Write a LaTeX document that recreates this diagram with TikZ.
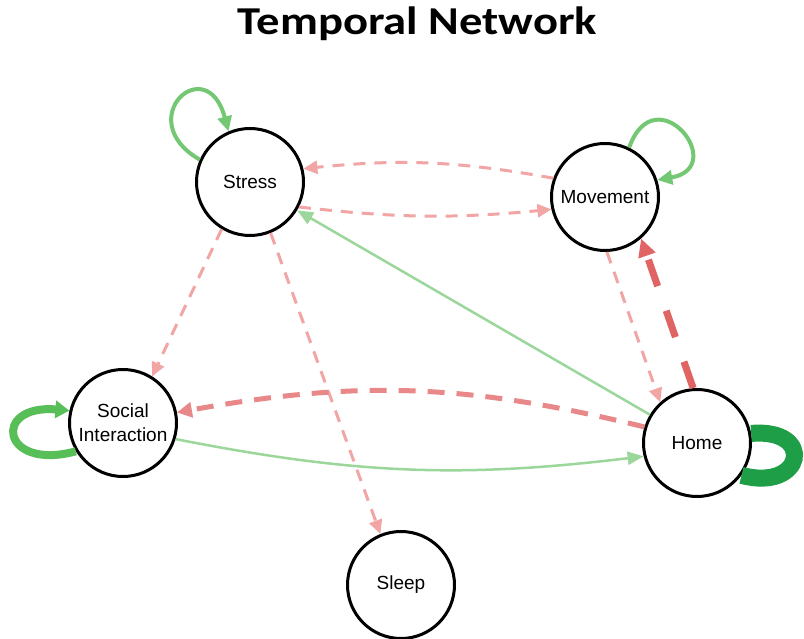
\documentclass[tikz,border=0pt]{standalone}
\usepackage{fontspec}
\usepackage{graphicx}
\setmainfont{Liberation Sans}
\newfontfamily\titlefont{Carlito}
\usetikzlibrary{arrows.meta}
\definecolor{lightred}{HTML}{F2A5A5}
\definecolor{midred}{HTML}{E98888}
\definecolor{darkred}{HTML}{E06464}
\definecolor{lightgreen}{HTML}{9BD79B}
\definecolor{loopgreen}{HTML}{74C874}
\definecolor{socialgreen}{HTML}{58BE58}
\definecolor{homegreen}{HTML}{1E9E46}
\begin{document}
\begin{tikzpicture}[x=1pt,y=1pt,
  state/.style={circle,draw=black,line width=3pt,minimum size=107pt,inner sep=0pt,
    font=\fontsize{19}{24}\selectfont,align=center,fill=white},
  lr/.style={draw=lightred,line width=3pt,dash pattern=on 12pt off 9pt,
    -{Triangle[length=14pt,width=13pt,fill=lightred]}},
  mr/.style={draw=midred,line width=5pt,dash pattern=on 17pt off 12pt,
    -{Triangle[length=15pt,width=15pt,fill=midred]}},
  dr/.style={draw=darkred,line width=7pt,dash pattern=on 28pt off 26pt,
    -{Triangle[length=18pt,width=17pt,fill=darkred]}},
  lg/.style={draw=lightgreen,line width=2.5pt,
    -{Triangle[length=16pt,width=13pt,fill=lightgreen]}},
  sl/.style={draw=loopgreen,line width=4pt,
    -{Triangle[length=15pt,width=14pt,fill=loopgreen]}},
]
\useasboundingbox (0,0) rectangle (804,-639);
\fill[white] (0,0) rectangle (804,-639);

\node[anchor=base] (title) at (417.5,-35)
  {\scalebox{1.18}[1]{\titlefont\bfseries\fontsize{39.5}{40}\selectfont Temporal Network}};

\node[state] (stress) at (250,-182) {Stress};
\node[state] (move) at (605,-197) {Movement};
\node[state] (social) at (123,-423) {Social\\Interaction};
\node[state] (home) at (697,-443) {Home};
\node[state] (sleep) at (401,-585) {Sleep};

% self loops
\draw[sl] (stress.156) .. controls +(150:80) and +(105:85) .. (stress.113);
\draw[sl] (move.64) .. controls +(70:78) and +(10:74) .. (move.18);
\draw[draw=socialgreen,line width=8pt,-{Triangle[length=14pt,width=17pt,fill=socialgreen]}]
  (social.211) .. controls +(195:78) and +(175:78) .. (social.167);
\draw[draw=homegreen,line width=17pt]
  (home.10) .. controls +(5:65) and +(-15:65) .. (home.-36);

% edges
\draw[lr] (stress.-27) to[bend right=6] (move.193);
\draw[lr] (move.160) to[bend right=8] (stress.14);
\draw[lg] (home.149) -- (stress.-31);
\draw[lr] (stress.239) -- (social.58);
\draw[lr] (stress.-68) -- (sleep.112);
\draw[lr] (move.-88) -- (home.132);
\draw[dr] (home.94) -- (move.-49);
\draw[mr] (home.163) to[bend right=12] (social.11.5);
\draw[lg] (social.-17.5) to[bend right=9] (home.194.5);
\end{tikzpicture}
\end{document}
